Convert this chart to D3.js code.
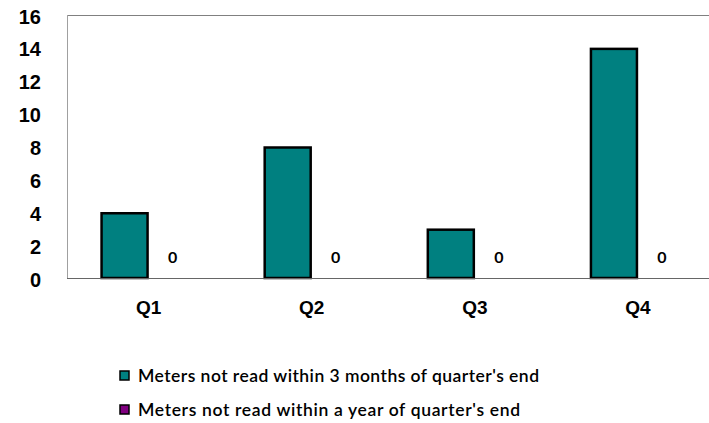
<!DOCTYPE html>
<html><head><meta charset="utf-8">
<script src="https://cdn.jsdelivr.net/npm/d3@7"></script>
<style>body{margin:0;background:#fff;} svg{display:block;font-family:Lato, "Open Sans", sans-serif;}</style>
</head><body>
<svg id="c" width="709" height="423"></svg>
<script>
const categories = ["Q1","Q2","Q3","Q4"];
const seriesNames = ["Meters not read within 3 months of quarter's end","Meters not read within a year of quarter's end"];
const series3m = [4,8,3,14];
const series1y = [0,0,0,0];
const yTicks = [0,2,4,6,8,10,12,14,16];
const colors = ["#008080","#800080"];

(function(){
const svg = d3.select("#c");
const pL = 67, pT = 15, pB = 278, pR = 719.5;
const x = d3.scaleBand().domain(categories).range([pL,pR]).paddingInner(0).paddingOuter(0);
const y = d3.scaleLinear().domain([0,16]).range([pB, pT]);
const bw = 48;
const gap = (x.bandwidth() - 2*bw)/2;

// frame
svg.append("line").attr("x1",pL).attr("x2",709).attr("y1",pT+0.5).attr("y2",pT+0.5).attr("stroke","#808080");
svg.append("line").attr("x1",pL+0.5).attr("x2",pL+0.5).attr("y1",pT).attr("y2",pB).attr("stroke","#a0a0a0");

// y axis
const yAxis = d3.axisLeft(y).tickValues(yTicks).tickSize(0).tickPadding(0);
const ya = svg.append("g").attr("transform",`translate(41,1)`).call(yAxis);
ya.select(".domain").remove();
ya.selectAll("text").attr("font-size",20).attr("font-weight",700).attr("fill","#000").attr("dy","0.35em");

// bars
const data = categories.map((c,i)=>({c, v:[series3m[i], series1y[i]]}));
data.forEach(d=>{
  d.v.forEach((v,k)=>{
    const x0 = x(d.c)+gap+k*bw;
    if (v>0) {
      svg.append("rect").attr("x",x0+1).attr("y",y(v)+1).attr("width",bw-2).attr("height",y(0)-y(v)-1)
        .attr("fill",colors[k]).attr("stroke","#000").attr("stroke-width",2.5);
    }
    if (k===1) {
      svg.append("text").attr("x",x0+bw/2).attr("y",y(0)-21).attr("text-anchor","middle").attr("dy","0.35em")
        .attr("font-size",16).attr("font-weight",700).text(v);
    }
  });
});

// baseline
svg.append("line").attr("x1",pL).attr("x2",709).attr("y1",pB+0.5).attr("y2",pB+0.5).attr("stroke","#666");

// x axis
const xAxis = d3.axisBottom(x).tickSize(0).tickPadding(0);
const xa = svg.append("g").attr("transform",`translate(0,${pB})`).call(xAxis);
xa.select(".domain").remove();
xa.selectAll("text").attr("y",29).attr("dy","0.35em").attr("font-size",19).attr("font-weight",600).attr("fill","#000");

// legend
const lg = svg.append("g");
const lens = [401, 382];
seriesNames.forEach((n,i)=>{
  const yy = 376 + i*34;
  lg.append("rect").attr("x",120).attr("y",yy-5).attr("width",9).attr("height",9).attr("fill",colors[i]).attr("stroke","#000").attr("stroke-width",1.5);
  lg.append("text").attr("x",138).attr("y",yy).attr("dy","0.35em").attr("font-size",17.5).attr("font-weight",600)
    .attr("textLength",lens[i]).attr("lengthAdjust","spacing").text(n);
});
})();
</script>
</body></html>
